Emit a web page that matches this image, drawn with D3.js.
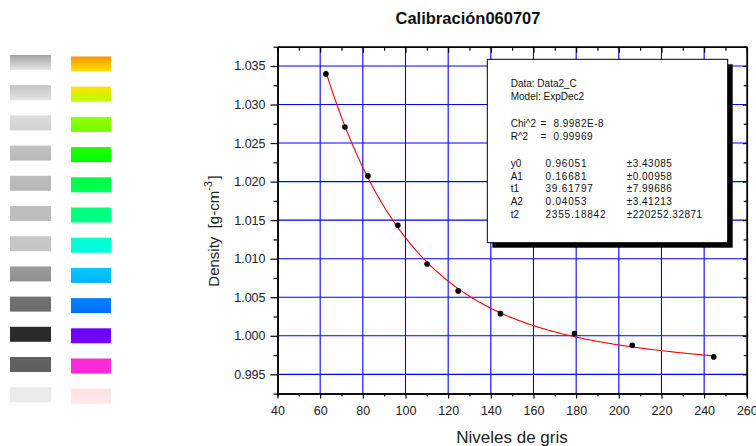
<!DOCTYPE html>
<html>
<head>
<meta charset="utf-8">
<script src="https://cdn.jsdelivr.net/npm/d3@7"></script>
<style>
  html, body { margin: 0; padding: 0; background: #fff; }
  svg { display: block; font-family: "Liberation Sans", Arial, sans-serif; }
  text { white-space: pre; }
</style>
</head>
<body>
<svg id="chart" width="756" height="446"></svg>
<script>
// Calibration measurements: grey level vs. density
const nivel    = [62.7, 71.6, 82.4, 96.4, 110.1, 124.7, 144.5, 179.2, 206.3, 244.5];
const densidad = [1.03397, 1.02709, 1.02074, 1.01433, 1.00932, 1.00582, 1.00287, 1.00028, 0.99877, 0.99726];

// Axis ticks
const xTicks      = [40, 60, 80, 100, 120, 140, 160, 180, 200, 220, 240, 260];
const xMinorTicks = [50, 70, 90, 110, 130, 150, 170, 190, 210, 230, 250];
const yTicks      = [0.995, 1.000, 1.005, 1.010, 1.015, 1.020, 1.025, 1.030, 1.035];
const yMinorTicks = [0.9925, 0.9975, 1.0025, 1.0075, 1.0125, 1.0175, 1.0225, 1.0275, 1.0325, 1.0375];

// ExpDec2 fit: y = y0 + A1*exp(-x/t1) + A2*exp(-x/t2)
const paramNames  = ["y0", "A1", "t1", "A2", "t2"];
const paramValues = [0.96051, 0.16681, 39.61797, 0.04053, 2355.18842];
const paramText   = ["0.96051", "0.16681", "39.61797", "0.04053", "2355.18842"];
const paramErrors = ["±3.43085", "±0.00958", "±7.99686", "±3.41213", "±220252.32871"];
const fitStats    = [["Chi^2", "=  8.9982E-8"], ["R^2", "=  0.99969"]];
const fitHeader   = ["Data: Data2_C", "Model: ExpDec2"];

// Colour swatches (top colour, bottom colour)
const greySwatches = [
  ["#a4a4a4", "#e6e6e6"], ["#c4c4c4", "#e4e4e4"], ["#dcdcdc", "#d2d2d2"], ["#c2c2c2", "#b8b8b8"],
  ["#bcbcbc", "#b8b8b8"], ["#bfbfbf", "#bdbdbd"], ["#c7c7c7", "#c5c5c5"], ["#9c9c9c", "#8e8e8e"],
  ["#747474", "#6a6a6a"], ["#2c2c2c", "#2a2a2a"], ["#616161", "#5f5f5f"], ["#ebebeb", "#ebebeb"]
];
const hueSwatches = [
  ["#ff9600", "#ffe400"], ["#ffe000", "#b8ff00"], ["#98ff00", "#70ff00"], ["#22ff00", "#00ff00"],
  ["#00ff40", "#00ff58"], ["#00ff78", "#00ff8a"], ["#00ffd0", "#00ffe0"], ["#00ccff", "#00b0ff"],
  ["#0082ff", "#0070ff"], ["#6800ff", "#7800ff"], ["#ff2ad8", "#ff28d8"], ["#ffe2e2", "#ffe8e8"]
];

const svg = d3.select("#chart");

const x = d3.scaleLinear().domain([40, 260]).range([277.5, 746.8]);
const y = d3.scaleLinear().domain([0.9925, 1.0375]).range([393.6, 46.7]);
const [x0, x1] = x.range();
const [yb, yt] = y.range();

// ---- swatch columns
const defs = svg.append("defs");
const rowY = d3.scaleLinear().domain([0, 11]).range([55, 387.2]);
function swatchColumn(colors, id, left, width, dy) {
  colors.forEach((c, i) => {
    const g = defs.append("linearGradient").attr("id", id + i)
      .attr("x1", 0).attr("y1", 0).attr("x2", 0).attr("y2", 1);
    g.append("stop").attr("offset", "0%").attr("stop-color", c[0]);
    g.append("stop").attr("offset", "100%").attr("stop-color", c[1]);
  });
  svg.append("g").selectAll("rect").data(colors).join("rect")
    .attr("x", left).attr("y", (d, i) => rowY(i) + dy)
    .attr("width", width).attr("height", 15)
    .attr("fill", (d, i) => `url(#${id}${i})`);
}
swatchColumn(greySwatches, "gs", 10, 41, 0);
swatchColumn(hueSwatches, "hs", 71, 40, 1.5);

// ---- grid
const grid = svg.append("g").attr("stroke", "#0000ff").attr("stroke-width", 1.1);
grid.selectAll("line.v").data(xTicks.slice(1, -1)).join("line")
  .attr("x1", d => x(d)).attr("x2", d => x(d)).attr("y1", yt).attr("y2", yb);
grid.selectAll("line.h").data(yTicks).join("line")
  .attr("y1", d => y(d)).attr("y2", d => y(d)).attr("x1", x0).attr("x2", x1);

// ---- axes
function styleAxis(g) {
  g.select(".domain").attr("stroke", "#000").attr("stroke-width", 1.5);
  g.selectAll(".tick line").attr("stroke", "#000").attr("stroke-width", 1.2);
  g.selectAll("text").attr("font-family", "Liberation Sans, Arial, sans-serif")
    .attr("font-size", 12.5).attr("fill", "#222");
}
// bottom
svg.append("g").attr("transform", `translate(0,${yb})`)
  .call(d3.axisBottom(x).tickValues(xMinorTicks).tickSize(3).tickFormat(""))
  .call(styleAxis);
svg.append("g").attr("transform", `translate(0,${yb})`)
  .call(d3.axisBottom(x).tickValues(xTicks).tickSize(5).tickPadding(8).tickFormat(d3.format("d")).tickSizeOuter(0))
  .call(styleAxis);
// top (ticks inside)
svg.append("g").attr("transform", `translate(0,${yt})`)
  .call(d3.axisBottom(x).tickValues(xMinorTicks).tickSize(4).tickFormat("").tickSizeOuter(0))
  .call(styleAxis);
svg.append("g").attr("transform", `translate(0,${yt})`)
  .call(d3.axisBottom(x).tickValues(xTicks).tickSize(6).tickFormat("").tickSizeOuter(0))
  .call(styleAxis);
// left
svg.append("g").attr("transform", `translate(${x0},0)`)
  .call(d3.axisLeft(y).tickValues(yMinorTicks).tickSize(4).tickFormat("").tickSizeOuter(0))
  .call(styleAxis);
svg.append("g").attr("transform", `translate(${x0},0)`)
  .call(d3.axisLeft(y).tickValues(yTicks).tickSize(7).tickPadding(5).tickFormat(d3.format(".3f")).tickSizeOuter(0))
  .call(styleAxis);
// right (ticks inside)
svg.append("g").attr("transform", `translate(${x1},0)`)
  .call(d3.axisLeft(y).tickValues(yMinorTicks).tickSize(3).tickFormat("").tickSizeOuter(0))
  .call(styleAxis);
svg.append("g").attr("transform", `translate(${x1},0)`)
  .call(d3.axisLeft(y).tickValues(yTicks).tickSize(4).tickFormat("").tickSizeOuter(0))
  .call(styleAxis);

// ---- fit curve from stated parameters
const [p0, pA1, pt1, pA2, pt2] = paramValues;
const fit = xv => p0 + pA1 * Math.exp(-xv / pt1) + pA2 * Math.exp(-xv / pt2);
const xs = d3.range(nivel[0], nivel[nivel.length - 1] + 0.01, 0.5);
svg.append("path")
  .datum(xs)
  .attr("fill", "none").attr("stroke", "#ff0000").attr("stroke-width", 1.1)
  .attr("d", d3.line().x(d => x(d)).y(d => y(fit(d))));

// ---- data points
svg.append("g").selectAll("circle").data(nivel).join("circle")
  .attr("cx", d => x(d)).attr("cy", (d, i) => y(densidad[i]))
  .attr("r", 2.8).attr("fill", "#000");

// ---- fit summary box
const bx = 487.3, by = 59.3, bw = 240.4, bh = 183.4;
svg.append("rect").attr("x", bx + 5).attr("y", by + 5).attr("width", bw).attr("height", bh).attr("fill", "#000");
svg.append("rect").attr("x", bx).attr("y", by).attr("width", bw).attr("height", bh)
  .attr("fill", "#fff").attr("stroke", "#000").attr("stroke-width", 1);

const box = svg.append("g").attr("font-size", 10).attr("fill", "#111");
const lh = 12.8, colA = 510.7, colB = 545.5, colC = 626.7, colEq = 540.5;
fitHeader.forEach((t, i) => box.append("text").attr("x", colA).attr("y", 87.2 + i * lh).text(t));
fitStats.forEach((s, i) => {
  box.append("text").attr("x", colA).attr("y", 127 + i * lh).text(s[0]);
  box.append("text").attr("x", colEq).attr("y", 127 + i * lh).attr("letter-spacing", 0.5).text(s[1]);
});
paramNames.forEach((n, i) => {
  const yy = 166.7 + i * lh;
  box.append("text").attr("x", colA).attr("y", yy).text(n);
  box.append("text").attr("x", colB).attr("y", yy).attr("letter-spacing", 0.8).text(paramText[i]);
  box.append("text").attr("x", colC).attr("y", yy).attr("letter-spacing", 0.5).text(paramErrors[i]);
});

// ---- titles
svg.append("text").attr("x", 468).attr("y", 24).attr("text-anchor", "middle")
  .attr("font-size", 16.5).attr("font-weight", "bold").attr("fill", "#111")
  .text("Calibración060707");
svg.append("text").attr("x", 512).attr("y", 443).attr("text-anchor", "middle")
  .attr("font-size", 17).attr("fill", "#222").text("Niveles de gris");
const yl = svg.append("text").attr("transform", "translate(219,231) rotate(-90)")
  .attr("text-anchor", "middle").attr("font-size", 15).attr("fill", "#222");
yl.append("tspan").text("Density  [g-cm");
yl.append("tspan").attr("dy", -7).attr("font-size", 11).text("-3");
yl.append("tspan").attr("dy", 7).attr("dx", 1.5).text("]");
</script>
</body>
</html>
